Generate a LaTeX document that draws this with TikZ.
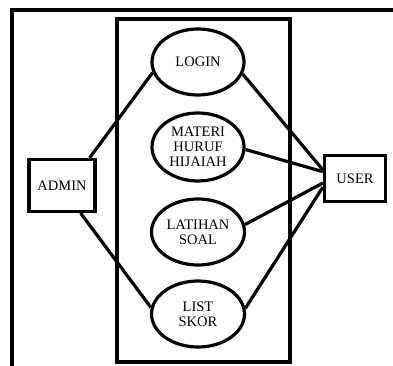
\documentclass[tikz,border=0pt]{standalone}
\usepackage{fontspec}
\setmainfont{Liberation Serif}
\usetikzlibrary{shapes.geometric}
\tikzset{
  usecase/.style={ellipse, draw=black, line width=3.2pt, inner sep=0pt,
    minimum width=92pt, minimum height=66pt, align=center,
    font=\fontsize{14.5}{15}\selectfont},
  actor/.style={rectangle, draw=black, line width=3.2pt, inner sep=0pt,
    align=center, font=\fontsize{14.5}{15}\selectfont},
  link/.style={line width=3.2pt, color=black},
  frame/.style={line width=3.2pt, color=black}
}
\begin{document}
\begin{tikzpicture}[x=1pt, y=-1pt]
  \useasboundingbox (0,0) rectangle (393,366);
  % outer frame and system boundary
  \draw[frame] (12,366) -- (12,10) -- (393,10);
  \draw[frame] (117,19) rectangle (290,362);

  % use cases
  \node[usecase] (login) at (198,62) {LOGIN};
  \node[usecase, minimum height=68pt] (materi) at (198,147) {MATERI\\HURUF\\HIJAIAH};
  \node[usecase, minimum width=93pt] (latihan) at (198,232) {LATIHAN\\SOAL};
  \node[usecase, minimum width=93pt] (skor) at (198,314) {LIST\\SKOR};

  % actors
  \node[actor, minimum width=66pt, minimum height=52pt] (admin) at (62,185.5) {ADMIN};
  \node[actor, minimum width=61pt, minimum height=46pt] (user) at (355,178.5) {USER};

  \draw[link] (admin.45) -- (login.193);
  \draw[link] (admin.-56) -- (skor.172);
  \draw[link] (login.-15) -- (user.165);
  \draw[link] (materi.-3) -- (user.168);
  \draw[link] (latihan.9) -- (user.188);
  \draw[link] (skor.7) -- (user.195);
\end{tikzpicture}
\end{document}
